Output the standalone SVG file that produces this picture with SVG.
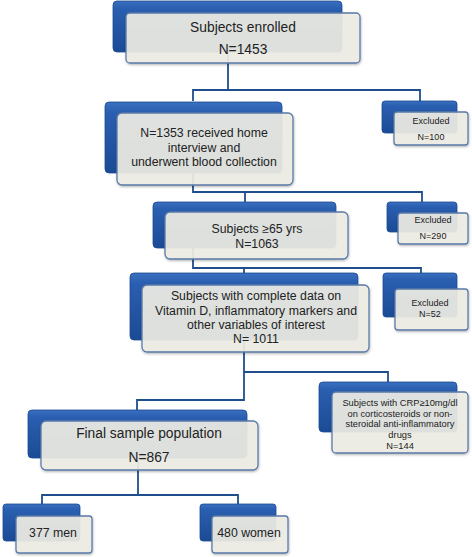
<svg xmlns="http://www.w3.org/2000/svg" width="472" height="557" viewBox="0 0 472 557">
<defs>
<linearGradient id="blue" x1="0" y1="0" x2="0" y2="1">
<stop offset="0" stop-color="#3b70c0"/>
<stop offset="0.15" stop-color="#2a5eb0"/>
<stop offset="1" stop-color="#1b4b95"/>
</linearGradient>
<filter id="sh" x="-10%" y="-10%" width="130%" height="140%">
<feDropShadow dx="0.5" dy="1.2" stdDeviation="1" flood-color="#000" flood-opacity="0.3"/>
</filter>
</defs>
<style>
.back{fill:url(#blue);stroke:#1a4a90;stroke-width:0.8}
.front{fill:#efeee6;fill-opacity:0.9;stroke:#5a7aa8;stroke-width:1.3;filter:url(#sh)}
.conn{fill:none;stroke:#1f4e8c;stroke-width:1.8}
text{font-family:"Liberation Sans",Arial,sans-serif;fill:#222;text-anchor:middle}
.t14{font-size:13.8px}
.t12{font-size:12.3px}
.t9{font-size:9px}
.t93{font-size:9.3px}
</style>
<rect width="472" height="557" fill="#fff"/>
<g id="connectors" class="conn">
<path d="M228,52 V90"/>
<path d="M193,101 V90 H420 V101"/>
<path d="M193,173 V192 H422 V202"/>
<path d="M245,192 V202"/>
<path d="M193,248 V268 H421 V273"/>
<path d="M244,268 V273"/>
<path d="M244,340 V400 H137 V410"/>
<path d="M244,372 H388 V382"/>
<path d="M138,458 V495 H42 V504"/>
<path d="M138,495 H238 V504"/>
</g>
<g id="n1">
<rect class="back" x="113" y="1" width="229" height="51" rx="4"/>
<rect class="front" x="126" y="13" width="234" height="50" rx="4"/>
<text class="t14" x="243" y="32">Subjects enrolled</text>
<text class="t14" x="243" y="54">N=1453</text>
</g>
<g id="n2">
<rect class="back" x="105" y="102" width="177" height="71" rx="4"/>
<rect class="front" x="117" y="113" width="176" height="72" rx="5"/>
<text class="t12" x="204" y="137">N=1353 received home</text>
<text class="t12" x="204" y="152">interview  and</text>
<text class="t12" x="204" y="166">underwent blood collection</text>
</g>
<g id="ex100">
<rect class="back" x="382" y="101" width="75" height="32" rx="3"/>
<rect class="front" x="394" y="112" width="74" height="33" rx="3"/>
<text class="t9" x="431" y="124">Excluded</text>
<text class="t9" x="431" y="140">N=100</text>
</g>
<g id="n3">
<rect class="back" x="153" y="202" width="183" height="46" rx="4"/>
<rect class="front" x="165" y="212" width="183" height="47" rx="5"/>
<text class="t12" x="257" y="233">Subjects ≥65 yrs</text>
<text class="t12" x="257" y="248">N=1063</text>
</g>
<g id="ex290">
<rect class="back" x="387" y="202" width="70" height="30" rx="3"/>
<rect class="front" x="398" y="213" width="70" height="31" rx="3"/>
<text class="t9" x="433" y="223">Excluded</text>
<text class="t9" x="433" y="239">N=290</text>
</g>
<g id="n4">
<rect class="back" x="130" y="273" width="228" height="67" rx="4"/>
<rect class="front" x="142" y="285" width="227" height="67" rx="5"/>
<text class="t12" x="256" y="300">Subjects with complete data on</text>
<text class="t12" x="256" y="315">Vitamin D, inflammatory markers and</text>
<text class="t12" x="256" y="329">other variables of interest</text>
<text class="t12" x="256" y="343">N= 1011</text>
</g>
<g id="ex52">
<rect class="back" x="383" y="273" width="74" height="44" rx="3"/>
<rect class="front" x="395" y="289" width="73" height="41" rx="3"/>
<text class="t9" x="430" y="306">Excluded</text>
<text class="t9" x="430" y="317">N=52</text>
</g>
<g id="crp">
<rect class="back" x="319" y="382" width="138" height="50" rx="4"/>
<rect class="front" x="332" y="392" width="136" height="61" rx="4"/>
<text class="t93" x="400" y="406">Subjects with CRP≥10mg/dl</text>
<text class="t93" x="400" y="417">on corticosteroids  or non-</text>
<text class="t93" x="400" y="427">steroidal anti-inflammatory</text>
<text class="t93" x="400" y="438">drugs</text>
<text class="t93" x="400" y="449">N=144</text>
</g>
<g id="final">
<rect class="back" x="28" y="410" width="219" height="48" rx="4"/>
<rect class="front" x="41" y="421" width="217" height="49" rx="5"/>
<text class="t14" x="149" y="438">Final sample population</text>
<text class="t14" x="149" y="462">N=867</text>
</g>
<g id="men">
<rect class="back" x="3" y="504" width="77" height="37" rx="3"/>
<rect class="front" x="16" y="516" width="76" height="37" rx="3"/>
<text class="t12" x="53" y="537">377 men</text>
</g>
<g id="women">
<rect class="back" x="200" y="504" width="76" height="37" rx="3"/>
<rect class="front" x="212" y="516" width="76" height="37" rx="3"/>
<text class="t12" x="249" y="537">480 women</text>
</g>
</svg>
